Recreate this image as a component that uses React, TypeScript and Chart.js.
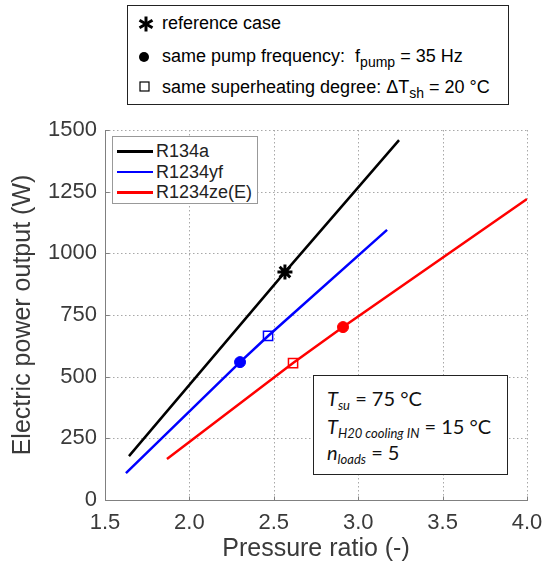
import React, { useEffect, useRef } from "react";
import { Chart, registerables } from "chart.js";

Chart.register(...registerables);

// ---- data ----
const ratioR134a = [1.642, 2.566, 3.242];
const powerR134a = [178, 924, 1459];
const ratioR1234yf = [1.624, 2.3, 2.466, 3.171];
const powerR1234yf = [109, 559, 665, 1095];
const ratioR1234ze = [1.867, 2.614, 2.91, 4.0];
const powerR1234ze = [166, 555, 701, 1220];

const refCaseRatio = [2.566];
const refCasePower = [924];
const samePumpRatioYf = [2.3];
const samePumpPowerYf = [559];
const samePumpRatioZe = [2.91];
const samePumpPowerZe = [701];
const sameShRatioYf = [2.466];
const sameShPowerYf = [665];
const sameShRatioZe = [2.614];
const sameShPowerZe = [555];

const seriesNames = ["R134a", "R1234yf", "R1234ze(E)"];
const seriesColors = ["#000000", "#0000ff", "#ff0000"];

const xMin = 1.5;
const xMax = 4.0;
const xStep = 0.5;
const yMin = 0;
const yMax = 1500;
const yStep = 250;

const xTitle = "Pressure ratio (-)";
const yTitle = "Electric power output (W)";

const pts = (xs: number[], ys: number[]) => xs.map((x, i) => ({ x, y: ys[i] }));

const ARIAL = "'Liberation Sans', Arial, Helvetica, sans-serif";
const TEXT_GRAY = "#3a3a3a";

// dotted MATLAB-like grid + solid left/bottom axis lines, drawn from the chart's own scales
const matlabGrid = {
  id: "matlabGrid",
  beforeDatasetsDraw(chart: any) {
    const { ctx, chartArea, scales } = chart;
    const { left, right, top, bottom } = chartArea;
    ctx.save();
    ctx.lineWidth = 1;
    ctx.strokeStyle = "#a8a8a8";
    ctx.setLineDash([1.5, 2.5]);
    for (const t of scales.x.ticks) {
      const px = Math.round(scales.x.getPixelForValue(t.value)) + 0.5;
      ctx.beginPath();
      ctx.moveTo(px, top);
      ctx.lineTo(px, bottom);
      ctx.stroke();
    }
    for (const t of scales.y.ticks) {
      const py = Math.round(scales.y.getPixelForValue(t.value)) + 0.5;
      ctx.beginPath();
      ctx.moveTo(left, py);
      ctx.lineTo(right, py);
      ctx.stroke();
    }
    ctx.setLineDash([]);
    ctx.strokeStyle = "#808080";
    const lx = Math.round(left) + 0.5;
    const by = Math.round(bottom) + 0.5;
    ctx.beginPath();
    ctx.moveTo(lx, Math.round(top));
    ctx.lineTo(lx, by);
    ctx.lineTo(Math.round(right) + 1, by);
    ctx.stroke();
    for (const t of scales.x.ticks) {
      const px = Math.round(scales.x.getPixelForValue(t.value)) + 0.5;
      ctx.beginPath();
      ctx.moveTo(px, by);
      ctx.lineTo(px, by - 4);
      ctx.stroke();
    }
    for (const t of scales.y.ticks) {
      const py = Math.round(scales.y.getPixelForValue(t.value)) + 0.5;
      ctx.beginPath();
      ctx.moveTo(lx, py);
      ctx.lineTo(lx + 4, py);
      ctx.stroke();
    }
    ctx.restore();
  },
};

export default function App() {
  const canvasRef = useRef<HTMLCanvasElement | null>(null);

  useEffect(() => {
    const canvas = canvasRef.current;
    if (!canvas) return;
    const lineDs = (xs: number[], ys: number[], color: string) => ({
      data: pts(xs, ys),
      showLine: true,
      borderColor: color,
      borderWidth: 2.5,
      pointRadius: 0,
      fill: false,
      tension: 0,
    });
    const chart = new Chart(canvas, {
      type: "scatter",
      plugins: [matlabGrid],
      data: {
        datasets: [
          lineDs(ratioR134a, powerR134a, seriesColors[0]),
          lineDs(ratioR1234yf, powerR1234yf, seriesColors[1]),
          lineDs(ratioR1234ze, powerR1234ze, seriesColors[2]),
          {
            data: pts(refCaseRatio, refCasePower),
            pointStyle: "star",
            pointRadius: 7.5,
            borderColor: "#000",
            backgroundColor: "#000",
            borderWidth: 3,
          },
          {
            data: pts(samePumpRatioYf, samePumpPowerYf),
            pointStyle: "circle",
            pointRadius: 5.5,
            borderColor: seriesColors[1],
            backgroundColor: seriesColors[1],
            borderWidth: 1,
          },
          {
            data: pts(samePumpRatioZe, samePumpPowerZe),
            pointStyle: "circle",
            pointRadius: 5.5,
            borderColor: seriesColors[2],
            backgroundColor: seriesColors[2],
            borderWidth: 1,
          },
          {
            data: pts(sameShRatioYf, sameShPowerYf),
            pointStyle: "rect",
            pointRadius: 6.5,
            borderColor: seriesColors[1],
            backgroundColor: "#ffffff",
            borderWidth: 1.5,
          },
          {
            data: pts(sameShRatioZe, sameShPowerZe),
            pointStyle: "rect",
            pointRadius: 6.5,
            borderColor: seriesColors[2],
            backgroundColor: "#ffffff",
            borderWidth: 1.5,
          },
        ],
      },
      options: {
        responsive: false,
        animation: false,
        layout: { padding: { top: 130, right: 17, left: 0, bottom: 0 } },
        plugins: { legend: { display: false }, tooltip: { enabled: false } },
        scales: {
          x: {
            type: "linear",
            min: xMin,
            max: xMax,
            afterFit: (s: any) => {
              s.height = 68;
              s.paddingRight = 0;
              s.paddingLeft = 0;
            },
            ticks: {
              stepSize: xStep,
              padding: 10,
              color: TEXT_GRAY,
              font: { family: ARIAL, size: 22 },
              callback: (v: any) => Number(v).toFixed(1),
              maxRotation: 0,
            },
            grid: { display: false, drawTicks: false },
            border: { display: false },
            title: {
              display: true,
              text: xTitle,
              color: TEXT_GRAY,
              font: { family: ARIAL, size: 25 },
              padding: { top: 0, bottom: 4 },
            },
          },
          y: {
            type: "linear",
            min: yMin,
            max: yMax,
            afterFit: (s: any) => {
              s.width = 105;
              s.paddingTop = 0;
              s.paddingBottom = 0;
            },
            ticks: {
              stepSize: yStep,
              padding: 8,
              color: TEXT_GRAY,
              font: { family: ARIAL, size: 22 },
              callback: (v: any) => String(v),
            },
            grid: { display: false, drawTicks: false },
            border: { display: false },
            title: {
              display: true,
              text: yTitle,
              color: TEXT_GRAY,
              font: { family: ARIAL, size: 25 },
              padding: { top: 8, bottom: 0 },
            },
          },
        },
      },
    });
    return () => chart.destroy();
  }, []);

  const abs = (s: React.CSSProperties): React.CSSProperties => ({ position: "absolute", ...s });

  return (
    <div style={{ position: "fixed", left: 0, top: 0, width: 544, height: 568, overflow: "hidden" }}>
      <canvas ref={canvasRef} width={544} height={568} style={{ display: "block", position: "absolute", left: 0, top: 0 }} />

      {/* top marker legend */}
      <div style={abs({ left: 127, top: 5, width: 382, height: 100, border: "1px solid #222", background: "#fff", boxSizing: "border-box" })} />
      <svg style={abs({ left: 137, top: 15, width: 18, height: 18 })} viewBox="0 0 18 18">
        <g stroke="#000" strokeWidth="3" strokeLinecap="butt">
          <line x1="9" y1="1.5" x2="9" y2="16.5" />
          <line x1="2.5" y1="5.2" x2="15.5" y2="12.8" />
          <line x1="2.5" y1="12.8" x2="15.5" y2="5.2" />
        </g>
      </svg>
      <div style={abs({ left: 162, top: 13, fontFamily: ARIAL, fontSize: 18, lineHeight: "20px", whiteSpace: "nowrap", color: "#000" })}>
        reference case
      </div>
      <svg style={abs({ left: 138, top: 51, width: 12, height: 12 })} viewBox="0 0 12 12">
        <circle cx="6" cy="6" r="5" fill="#000" />
      </svg>
      <div style={abs({ left: 162, top: 46, fontFamily: ARIAL, fontSize: 18, lineHeight: "20px", whiteSpace: "nowrap", color: "#000" })}>
        same pump frequency:&nbsp; f<sub style={{ fontSize: 14, verticalAlign: "-5px" }}>pump</sub> = 35 Hz
      </div>
      <svg style={abs({ left: 139, top: 81, width: 11, height: 11 })} viewBox="0 0 11 11">
        <rect x="1" y="1" width="9" height="9" fill="#fff" stroke="#000" strokeWidth="1.2" />
      </svg>
      <div style={abs({ left: 162, top: 77, fontFamily: ARIAL, fontSize: 18, lineHeight: "20px", whiteSpace: "nowrap", color: "#000" })}>
        same superheating degree: ΔT<sub style={{ fontSize: 14, verticalAlign: "-5px" }}>sh</sub> = 20 °C
      </div>

      {/* series legend inside plot */}
      <div style={abs({ left: 112, top: 136, width: 146, height: 68, border: "1px solid #999", background: "#fff", boxSizing: "border-box" })} />
      {seriesNames.map((name, i) => (
        <React.Fragment key={name}>
          <div style={abs({ left: 117, top: 150 + i * 20.5, width: 36, height: 2.5, background: seriesColors[i] })} />
          <div style={abs({ left: 156, top: 141 + i * 20.5, fontFamily: ARIAL, fontSize: 18, lineHeight: "20px", whiteSpace: "nowrap", color: "#222" })}>
            {name}
          </div>
        </React.Fragment>
      ))}

      {/* conditions box */}
      <div style={abs({ left: 313, top: 375, width: 195, height: 100, border: "1px solid #222", background: "#fff", boxSizing: "border-box" })} />
      <div style={abs({ left: 327, top: 387, fontFamily: "Lato, 'Open Sans', sans-serif", fontSize: 20, lineHeight: "22px", whiteSpace: "nowrap", color: "#111" })}>
        <i>T</i><sub style={{ fontSize: 13, fontStyle: "italic", verticalAlign: "-4px" }}>su</sub> = 75 °C
      </div>
      <div style={abs({ left: 327, top: 415, fontFamily: "Lato, 'Open Sans', sans-serif", fontSize: 20, lineHeight: "22px", whiteSpace: "nowrap", color: "#111" })}>
        <i>T</i><sub style={{ fontSize: 13, fontStyle: "italic", verticalAlign: "-4px" }}>H20 cooling IN</sub> = 15 °C
      </div>
      <div style={abs({ left: 327, top: 441, fontFamily: "Lato, 'Open Sans', sans-serif", fontSize: 20, lineHeight: "22px", whiteSpace: "nowrap", color: "#111" })}>
        <i>n</i><sub style={{ fontSize: 13, fontStyle: "italic", verticalAlign: "-4px" }}>loads</sub> = 5
      </div>
    </div>
  );
}
